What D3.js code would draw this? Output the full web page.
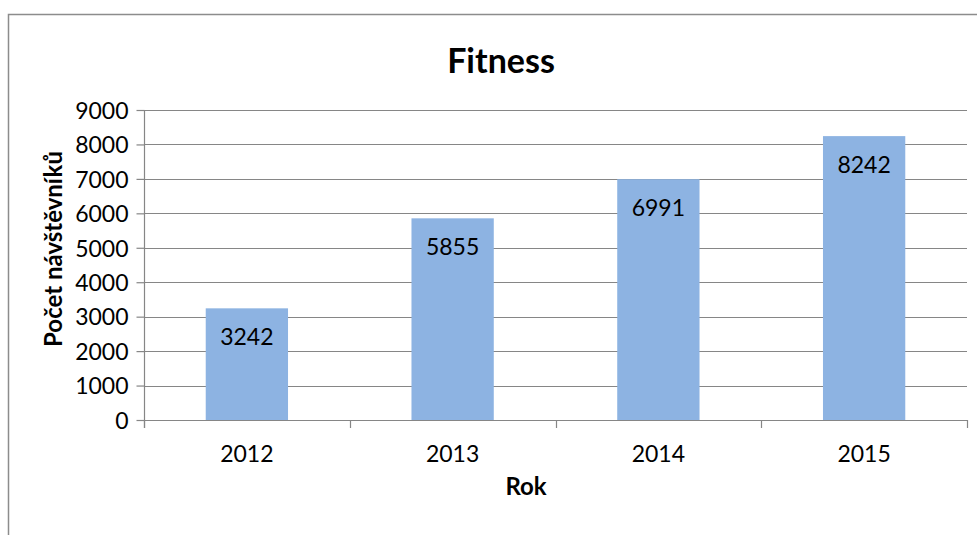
<!DOCTYPE html>
<html>
<head>
<meta charset="utf-8">
<script src="https://cdn.jsdelivr.net/npm/d3@7"></script>
<style>
  html, body { margin: 0; padding: 0; background: #fff; }
  svg { display: block; }
  text { font-family: Lato, "Open Sans", sans-serif; fill: #000; }
</style>
</head>
<body>
<svg id="chart" width="977" height="535"></svg>
<script>
// Visitors to the fitness centre per year
const years = ["2012", "2013", "2014", "2015"];
const visitors = [3242, 5855, 6991, 8242];
const yTicks = [0, 1000, 2000, 3000, 4000, 5000, 6000, 7000, 8000, 9000];
const chartTitle = "Fitness";
const xTitle = "Rok";
const yTitle = "Počet návštěvníků";

const svg = d3.select("#chart");
const W = 977, H = 535;
const plot = { left: 144, right: 967, top: 110, bottom: 420 };

// outer frame
svg.append("rect")
  .attr("x", 8.5).attr("y", 14.5)
  .attr("width", W + 10).attr("height", H + 10)
  .attr("fill", "#fff").attr("stroke", "#8c8c8c").attr("stroke-width", 1.5);

const x = d3.scaleBand().domain(years).range([plot.left, plot.right]).padding(0);
const y = d3.scaleLinear().domain([0, 9000]).range([plot.bottom, plot.top]);

// horizontal gridlines
svg.append("g")
  .selectAll("line")
  .data(yTicks.filter(d => d > 0))
  .join("line")
  .attr("x1", plot.left).attr("x2", plot.right)
  .attr("y1", d => Math.round(y(d)) + 0.5).attr("y2", d => Math.round(y(d)) + 0.5)
  .attr("stroke", "#868686").attr("stroke-width", 1.2);

// bars
const barW = x.bandwidth() * 0.4;
svg.append("g")
  .selectAll("rect")
  .data(years.map((yr, i) => ({ yr, v: visitors[i] })))
  .join("rect")
  .attr("x", d => x(d.yr) + (x.bandwidth() - barW) / 2)
  .attr("width", barW)
  .attr("y", d => y(d.v))
  .attr("height", d => y(0) - y(d.v))
  .attr("fill", "#8db3e2");

// value labels inside the bars
svg.append("g")
  .selectAll("text")
  .data(years.map((yr, i) => ({ yr, v: visitors[i] })))
  .join("text")
  .attr("x", d => x(d.yr) + x.bandwidth() / 2)
  .attr("y", d => y(d.v) + 37)
  .attr("text-anchor", "middle")
  .style("font-size", "23px")
  .text(d => d.v);

// y axis
const yAxis = d3.axisLeft(y).tickValues(yTicks).tickSize(8).tickPadding(8).tickFormat(d3.format("d"));
const gy = svg.append("g").attr("transform", `translate(${plot.left + 0.5},0)`).call(yAxis);
gy.select(".domain").attr("stroke", "#868686").attr("stroke-width", 1.2).attr("d", `M0,${plot.top}V${plot.bottom + 8}`);
gy.selectAll(".tick line").attr("stroke", "#868686").attr("stroke-width", 1.2);
gy.selectAll(".tick text").style("font-size", "23px").attr("dy", "0.36em");

// x axis: ticks sit on the category boundaries
const bounds = years.map(d => x(d)).concat([plot.right]);
const gx = svg.append("g");
gx.append("line")
  .attr("x1", plot.left).attr("x2", plot.right)
  .attr("y1", plot.bottom + 0.5).attr("y2", plot.bottom + 0.5)
  .attr("stroke", "#868686").attr("stroke-width", 1.2);
gx.selectAll("line.tk")
  .data(bounds)
  .join("line").attr("class", "tk")
  .attr("x1", d => Math.round(d) + 0.5).attr("x2", d => Math.round(d) + 0.5)
  .attr("y1", plot.bottom).attr("y2", plot.bottom + 8)
  .attr("stroke", "#868686").attr("stroke-width", 1.2);
gx.selectAll("text")
  .data(years)
  .join("text")
  .attr("x", d => x(d) + x.bandwidth() / 2)
  .attr("y", 462)
  .attr("text-anchor", "middle")
  .style("font-size", "23px")
  .text(d => d);

// titles
svg.append("text")
  .attr("x", 501).attr("y", 73)
  .attr("text-anchor", "middle")
  .style("font-size", "34px").style("font-weight", "bold")
  .text(chartTitle);

svg.append("text")
  .attr("x", 526).attr("y", 495)
  .attr("text-anchor", "middle")
  .style("font-size", "24px").style("font-weight", "bold")
  .text(xTitle);

svg.append("text")
  .attr("transform", "translate(62,249) rotate(-90)")
  .attr("text-anchor", "middle")
  .style("font-size", "24px").style("font-weight", "bold")
  .text(yTitle);
</script>
</body>
</html>
